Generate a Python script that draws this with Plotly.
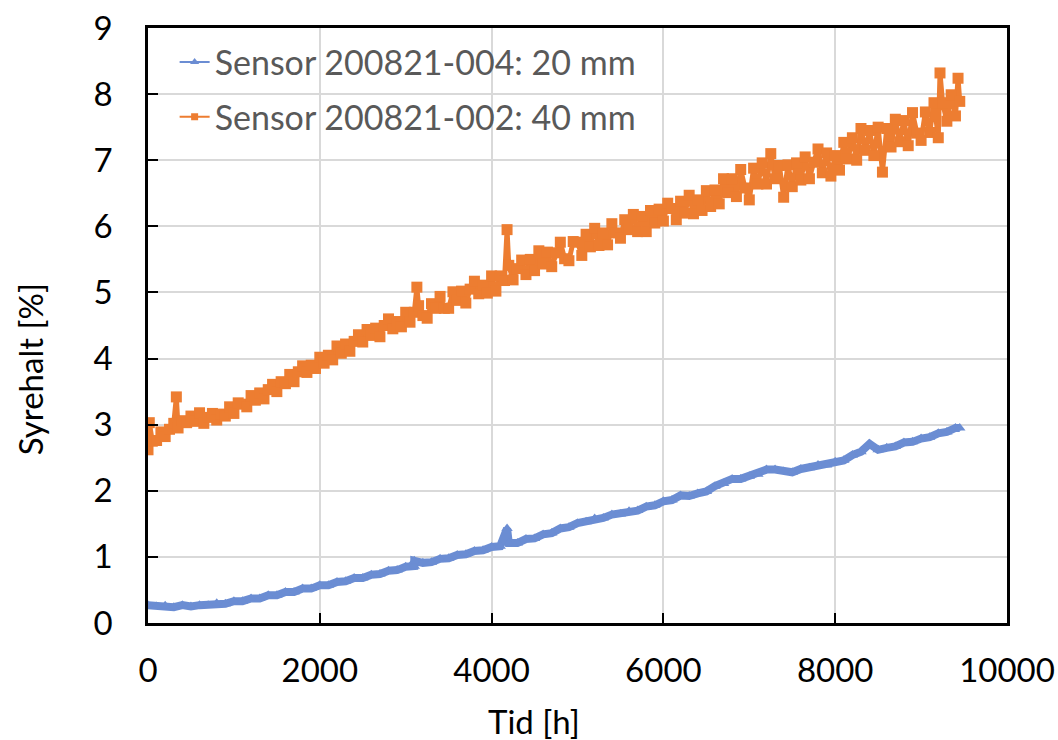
import plotly.graph_objects as go

# ---- data ----
time_004 = list(range(0, 9401, 100)) + [9450]
oxygen_004 = [
    0.27, 0.25, 0.26, 0.24, 0.27, 0.25, 0.27, 0.27, 0.30, 0.29,
    0.33, 0.33, 0.37, 0.37, 0.42, 0.42, 0.47, 0.47, 0.52, 0.52,
    0.57, 0.57, 0.62, 0.63, 0.68, 0.68, 0.73, 0.74, 0.79, 0.80,
    0.85, 0.86, 0.91, 0.92, 0.97, 0.98, 1.03, 1.04, 1.09, 1.10,
    1.15, 1.16, 1.21, 1.21, 1.27, 1.28, 1.34, 1.36, 1.43, 1.45,
    1.51, 1.53, 1.58, 1.59, 1.64, 1.65, 1.69, 1.70, 1.76, 1.78,
    1.84, 1.86, 1.93, 1.92, 1.96, 1.99, 2.07, 2.11, 2.18, 2.18,
    2.22, 2.25, 2.32, 2.32, 2.29, 2.28, 2.33, 2.35, 2.39, 2.39,
    2.44, 2.46, 2.54, 2.59, 2.71, 2.62, 2.65, 2.67, 2.73, 2.74,
    2.79, 2.81, 2.87, 2.89, 2.95, 2.95,
]
spike_time_004 = [3100, 4180]
spike_val_004 = [0.94, 1.43]

time_002 = list(range(0, 9451, 50))
oxygen_002 = [
    2.62, 2.75, 2.76, 2.89, 2.82, 2.93, 3.02, 2.95, 3.06, 3.03,
    3.13, 3.05, 3.18, 3.02, 3.11, 3.17, 3.07, 3.16, 3.13, 3.27,
    3.17, 3.33, 3.31, 3.27, 3.44, 3.37, 3.48, 3.39, 3.53, 3.61,
    3.50, 3.65, 3.62, 3.76, 3.65, 3.80, 3.89, 3.79, 3.90, 3.85,
    4.02, 3.93, 4.05, 3.98, 4.19, 4.08, 4.22, 4.11, 4.26, 4.36,
    4.25, 4.44, 4.35, 4.46, 4.33, 4.50, 4.60, 4.45, 4.56, 4.48,
    4.70, 4.55, 4.70, 4.80, 4.65, 4.61, 4.83, 4.76, 4.94, 4.76,
    4.76, 5.01, 4.88, 5.02, 4.84, 5.05, 5.17, 4.98, 5.11, 4.99,
    5.25, 5.02, 5.25, 5.18, 5.41, 5.19, 5.36, 5.49, 5.27, 5.50,
    5.33, 5.63, 5.43, 5.61, 5.39, 5.60, 5.76, 5.51, 5.48, 5.77,
    5.76, 5.56, 5.88, 5.69, 5.97, 5.71, 5.90, 5.72, 6.04, 5.90,
    5.82, 6.10, 5.95, 6.18, 5.92, 6.15, 5.92, 6.24, 6.05, 6.26,
    6.08, 6.35, 6.27, 6.10, 6.38, 6.20, 6.47, 6.19, 6.40, 6.24,
    6.54, 6.30, 6.55, 6.34, 6.72, 6.51, 6.72, 6.45, 6.86, 6.58,
    6.40, 6.88, 6.64, 6.96, 6.64, 7.10, 6.72, 6.92, 6.44, 6.93,
    6.60, 6.96, 6.70, 7.05, 6.72, 6.97, 7.17, 6.81, 7.11, 6.76,
    7.07, 6.85, 7.27, 7.02, 7.34, 7.00, 7.48, 7.15, 7.45, 7.07,
    7.50, 6.82, 7.48, 7.20, 7.62, 7.28, 7.60, 7.22, 7.72, 7.41,
    7.30, 7.73, 7.42, 7.87, 7.34, 7.87, 7.59, 7.99, 7.67, 7.89,
]
spike_time_002 = [15, 330, 3130, 4180, 9220, 9430]
spike_val_002 = [3.03, 3.42, 5.08, 5.95, 8.32, 8.24]

series_names = ["Sensor 200821-004: 20 mm", "Sensor 200821-002: 40 mm"]
x_ticks = [0, 2000, 4000, 6000, 8000, 10000]
x_tick_labels = ["0", "2000", "4000", "6000", "8000", "10000"]
y_ticks = [0, 1, 2, 3, 4, 5, 6, 7, 8, 9]

if len(time_004) != len(oxygen_004) or len(time_002) != len(oxygen_002):
    raise ValueError("length mismatch")


def merged(t, v, st, sv):
    pts = sorted(list(zip(t, v)) + list(zip(st, sv)), key=lambda p: p[0])
    return [p[0] for p in pts], [p[1] for p in pts]


x4, y4 = merged(time_004, oxygen_004, spike_time_004, spike_val_004)
x2, y2 = merged(time_002, oxygen_002, spike_time_002, spike_val_002)

BLUE = "#6B8DD3"
ORANGE = "#ED7D31"
FONT = "Lato"

fig = go.Figure()
# data traces
fig.add_trace(go.Scatter(
    x=x4, y=y4, name=series_names[0], mode="lines+markers",
    line=dict(color=BLUE, width=8),
    marker=dict(symbol="triangle-up", size=10, color=BLUE),
    showlegend=False,
))
fig.add_trace(go.Scatter(
    x=x2, y=y2, name=series_names[1], mode="lines+markers",
    line=dict(color=ORANGE, width=5),
    marker=dict(symbol="square", size=11, color=ORANGE),
    showlegend=False,
))
# legend entries (thin line + small marker as in the reference)
fig.add_trace(go.Scatter(
    x=[None], y=[None], name=series_names[0], mode="lines+markers",
    line=dict(color=BLUE, width=2),
    marker=dict(symbol="triangle-up", size=8, color=BLUE),
    legend="legend",
))
fig.add_trace(go.Scatter(
    x=[None], y=[None], name=series_names[1], mode="lines+markers",
    line=dict(color=ORANGE, width=2),
    marker=dict(symbol="square", size=7, color=ORANGE),
    legend="legend2",
))

axis_common = dict(
    showline=True, linecolor="black", linewidth=2.5, mirror=True,
    showgrid=True, gridcolor="#D9D9D9", gridwidth=1.5,
    ticks="inside", ticklen=10, tickwidth=2, tickcolor="black",
    tickfont=dict(family=FONT, size=33, color="black"),
    zeroline=False, automargin=False,
)

fig.update_xaxes(range=[0, 10000], tickvals=x_ticks, ticktext=x_tick_labels,
                 ticklabelstandoff=17, **axis_common)
fig.update_yaxes(range=[0, 9], tickvals=y_ticks, ticklabelstandoff=26, **axis_common)

legend_common = dict(
    xanchor="left", yanchor="middle", bgcolor="rgba(0,0,0,0)",
    font=dict(family=FONT, size=34, color="#595959"),
    itemsizing="trace",
)

fig.update_layout(
    width=1058, height=740,
    margin=dict(l=148, r=51, t=28, b=117, autoexpand=False),
    paper_bgcolor="white", plot_bgcolor="white",
    showlegend=True,
    legend=dict(x=0.031, y=0.942, **legend_common),
    legend2=dict(x=0.031, y=0.850, **legend_common),
    annotations=[
        dict(text="Tid [h]", x=0.449, y=-0.165, xref="paper", yref="paper",
             showarrow=False, xanchor="center", yanchor="middle",
             font=dict(family=FONT, size=33, color="black")),
        dict(text="Syrehalt [%]", x=-0.137, y=0.427, xref="paper", yref="paper",
             showarrow=False, xanchor="center", yanchor="middle", textangle=-90,
             font=dict(family=FONT, size=33, color="black")),
    ],
)

fig.write_html("out.html")
